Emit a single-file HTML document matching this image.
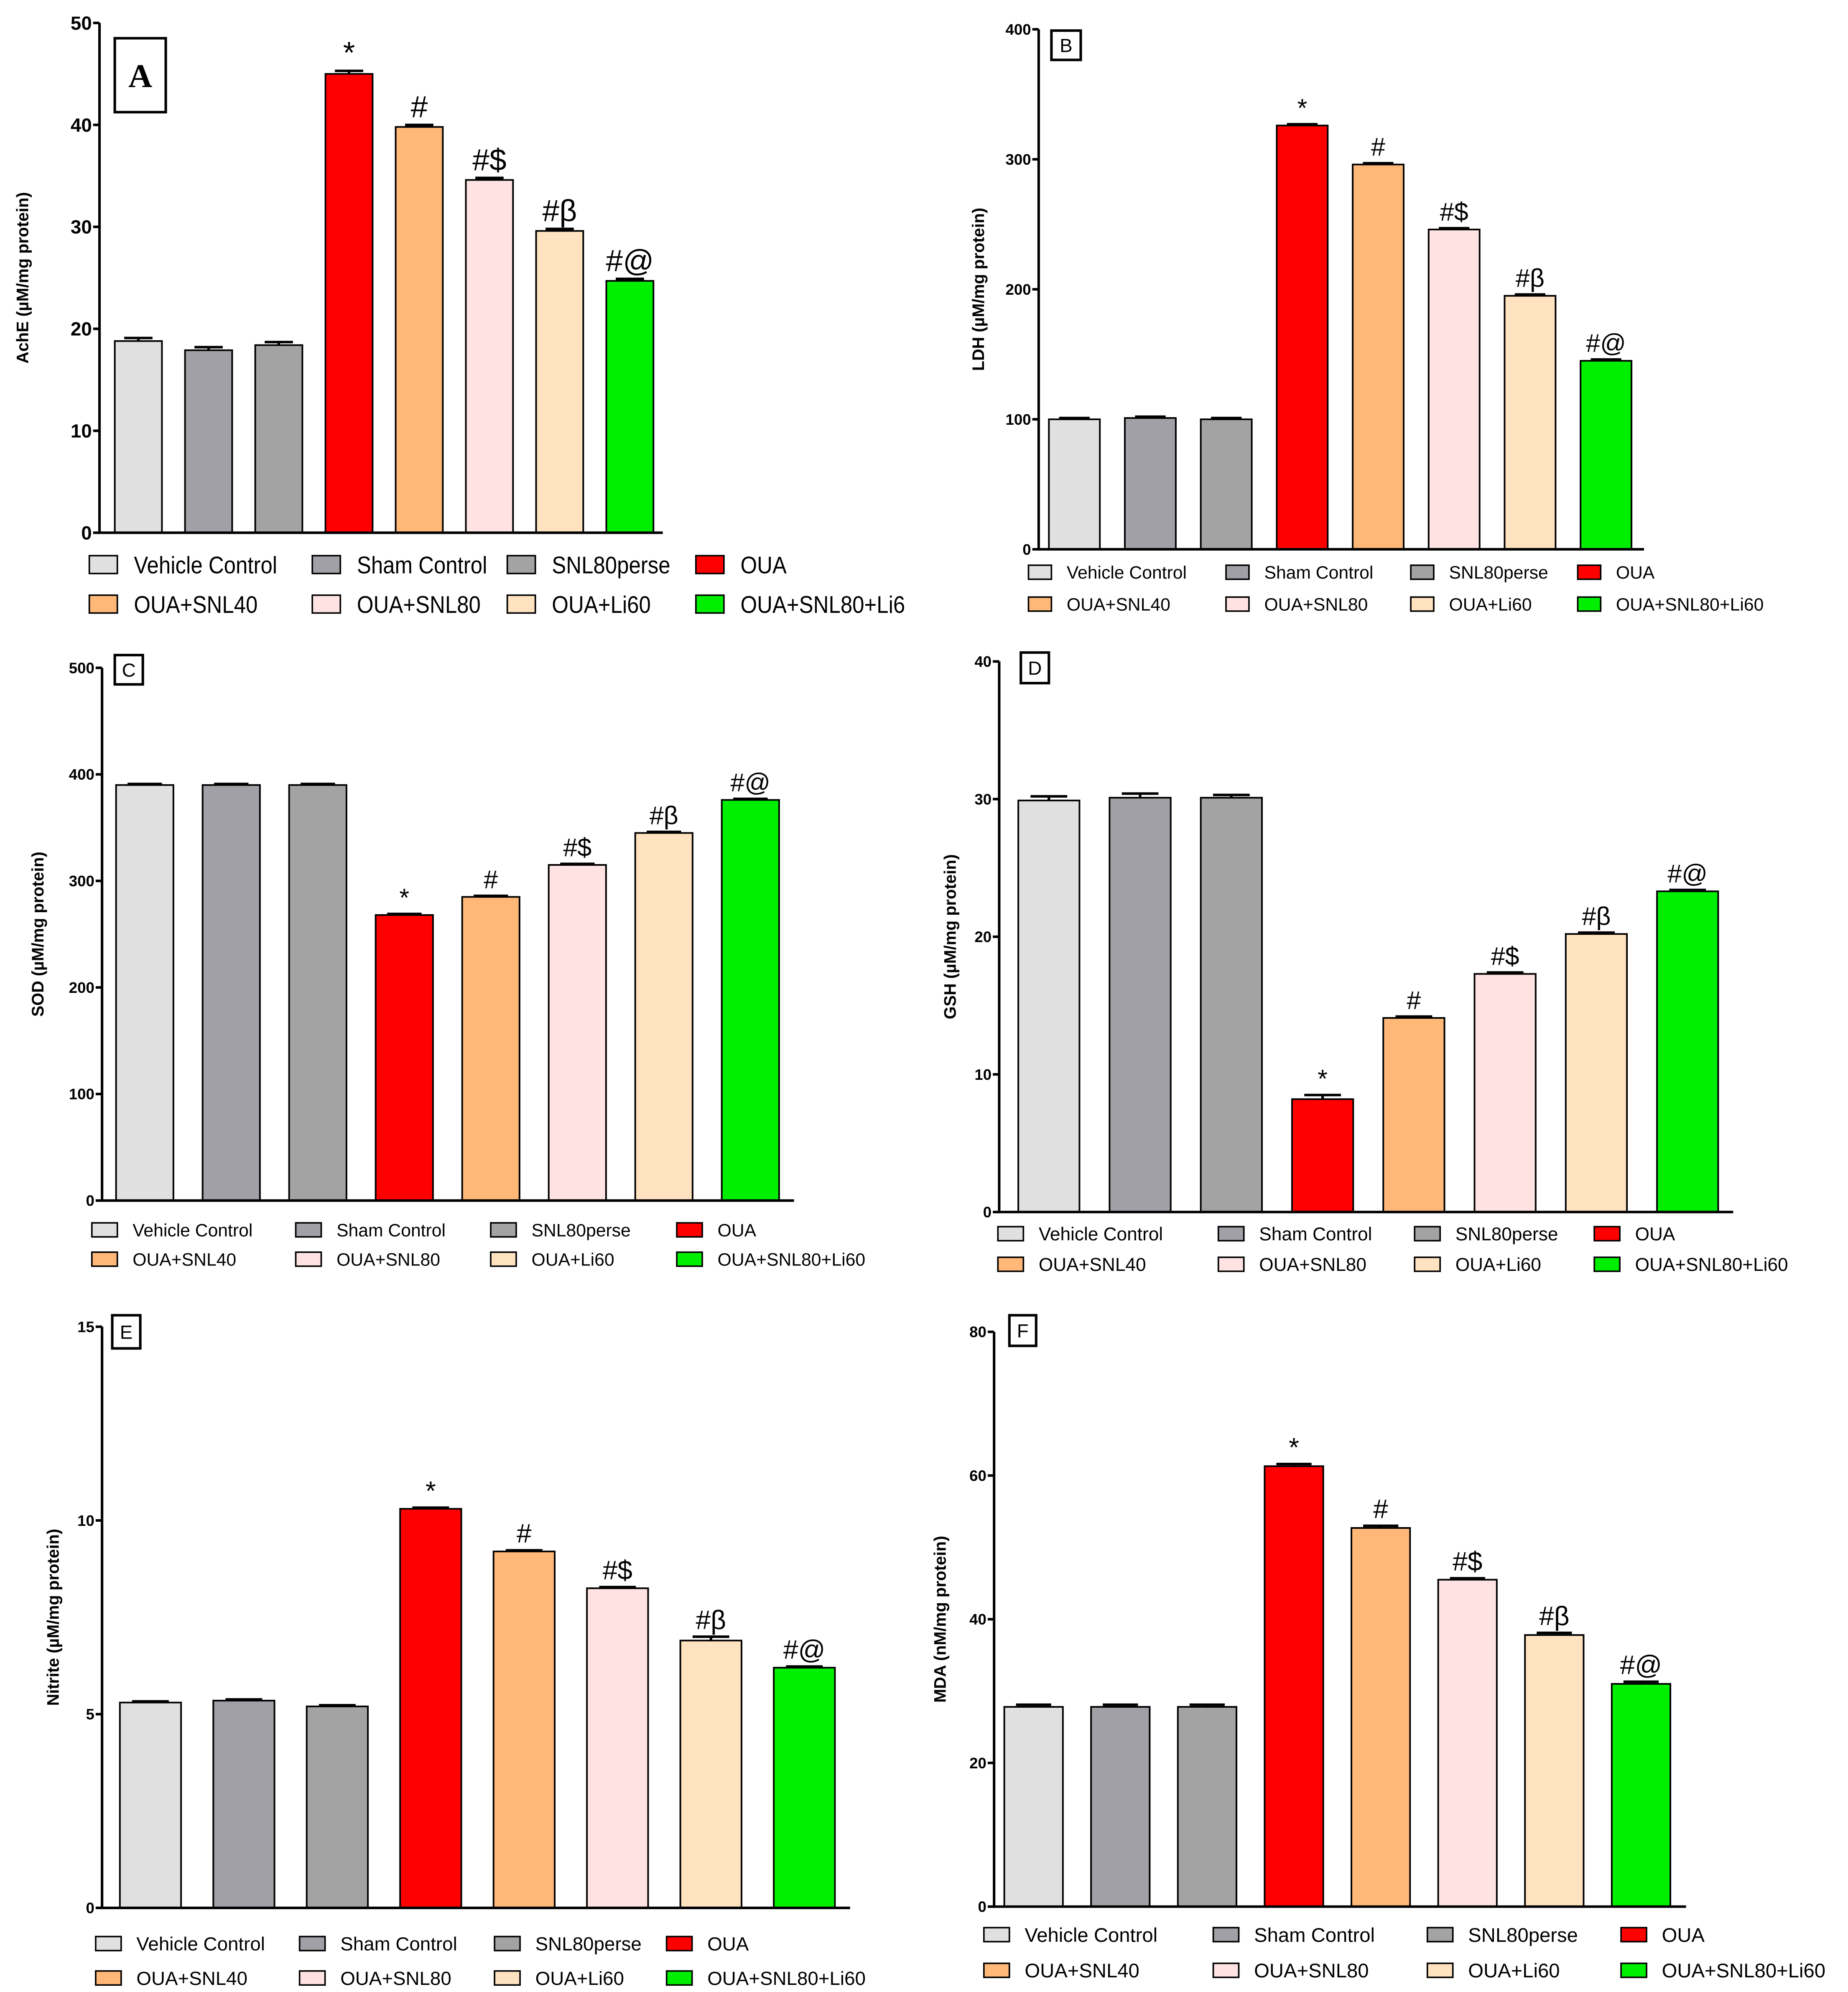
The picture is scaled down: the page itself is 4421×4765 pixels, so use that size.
<!DOCTYPE html>
<html><head><meta charset="utf-8"><style>
html,body{margin:0;padding:0;background:#fff;}
svg{display:block;}
</style></head><body>
<svg id="fig" width="4421" height="4765" viewBox="0 0 1450 1563" xmlns="http://www.w3.org/2000/svg" font-family="Liberation Sans, Arial, sans-serif"></svg>
<script>
const categories = ["Vehicle Control","Sham Control","SNL80perse","OUA","OUA+SNL40","OUA+SNL80","OUA+Li60","OUA+SNL80+Li60"];
const colors = ["#e0e0e0","#a0a0a6","#a3a3a3","#ff0000","#ffb878","#ffe2e2","#ffe2c0","#00ee00"];
const sigLabels = ["","","","*","#","#$","#\u03b2","#@"];
const valuesA = [18.8,17.9,18.4,45.0,39.8,34.6,29.6,24.7];
const valuesB = [100,101,100,326,296,246,195,145];
const valuesC = [390,390,390,268,285,315,345,376];
const valuesD = [29.9,30.1,30.1,8.2,14.1,17.3,20.2,23.3];
const valuesE = [5.3,5.35,5.2,10.3,9.2,8.25,6.9,6.2];
const valuesF = [27.8,27.8,27.8,61.3,52.7,45.5,37.8,31.0];
const errA = [0.3,0.3,0.3,0.3,0.2,0.2,0.2,0.2];
const errB = [1,1,1,1,1,1,1,1];
const errC = [1,1,1,1,1,1,1,1];
const errD = [0.3,0.3,0.2,0.3,0.1,0.1,0.1,0.1];
const errE = [0.03,0.03,0.03,0.03,0.03,0.03,0.1,0.03];
const errF = [0.3,0.3,0.3,0.3,0.3,0.2,0.3,0.3];
const ticksA = [0,10,20,30,40,50];
const ticksB = [0,100,200,300,400];
const ticksC = [0,100,200,300,400,500];
const ticksD = [0,10,20,30,40];
const ticksE = [0,5,10,15];
const ticksF = [0,20,40,60,80];

const NS="http://www.w3.org/2000/svg";
const svg=document.getElementById('fig');
function mk(tag,attrs,parent){const e=document.createElementNS(NS,tag);for(const k in attrs)e.setAttribute(k,attrs[k]);(parent||svg).appendChild(e);return e;}

const panels=[
 {id:'a',letter:'A',vals:valuesA,errs:errA,ticks:ticksA,ax:78,y0:418,yTop:18,max:50,b0:90,step:55.1,bw:37,xEnd:520,title:'AchE (\u00b5M/mg protein)',tx:22,box:[90,30,40,58],boxFs:26,serif:true,tickFs:15,annFs:24,
  legFs:19,legRows:[443,474],legX:[70,245,398,546],sq:[22,14],condensed:true},
 {id:'b',letter:'B',vals:valuesB,errs:errB,ticks:ticksB,ax:815,y0:431,yTop:23,max:400,b0:823,step:59.6,bw:40,xEnd:1290,title:'LDH (\u00b5M/mg protein)',tx:772,box:[825,24,23,23],boxFs:15,tickFs:12,annFs:20,
  legFs:14,legRows:[449,474],legX:[807,962,1107,1238],sq:[18,11]},
 {id:'c',letter:'C',vals:valuesC,errs:errC,ticks:ticksC,ax:80,y0:942,yTop:524,max:500,b0:91,step:67.9,bw:45,xEnd:623,title:'SOD (\u00b5M/mg protein)',tx:34,box:[90,514,22,23],boxFs:15,tickFs:12,annFs:20,
  legFs:14,legRows:[965,988],legX:[72,232,385,531],sq:[20,11]},
 {id:'d',letter:'D',vals:valuesD,errs:errD,ticks:ticksD,ax:784,y0:951,yTop:519,max:40,b0:799,step:71.6,bw:48,xEnd:1360,title:'GSH (\u00b5M/mg protein)',tx:750,box:[801,512,22,24],boxFs:15,tickFs:12,annFs:20,
  legFs:14.5,legRows:[968,992],legX:[783,956,1110,1251],sq:[20,11]},
 {id:'e',letter:'E',vals:valuesE,errs:errE,ticks:ticksE,ax:80,y0:1497,yTop:1041,max:15,b0:94,step:73.3,bw:48,xEnd:667,title:'Nitrite (\u00b5M/mg protein)',tx:46,box:[88,1032,22,26],boxFs:15,tickFs:12,annFs:21,
  legFs:15,legRows:[1525,1552],legX:[75,235,388,523],sq:[20,11]},
 {id:'f',letter:'F',vals:valuesF,errs:errF,ticks:ticksF,ax:780,y0:1496,yTop:1045,max:80,b0:788,step:68.1,bw:46,xEnd:1323,title:'MDA (nM/mg protein)',tx:742,box:[792,1032,21,24],boxFs:15,tickFs:12,annFs:21,
  legFs:15.5,legRows:[1518,1546],legX:[772,952,1120,1272],sq:[20,11]}
];

panels.forEach(p=>{
  const g=mk('g',{});
  
  
  const yS=v=>p.y0-(v/p.max)*(p.y0-p.yTop);
  const xS=i=>p.b0+i*p.step;
  p.vals.forEach((v,i)=>{
    const r=mk('rect',{x:xS(i),y:yS(v),width:p.bw,height:p.y0-yS(v),fill:colors[i],stroke:'#000','stroke-width':1.3},g);
    
    
    const cx=xS(i)+p.bw/2, e=p.errs[i], cw=p.bw*0.3;
    const eb=mk('path',{d:`M${cx} ${yS(v)} V${yS(v+e)} M${cx-cw} ${yS(v+e)} H${cx+cw}`,stroke:'#000','stroke-width':2,fill:'none'},g);
    
    
    if(sigLabels[i]){
      const t=mk('text',{x:cx,y:yS(v+e)-6,'text-anchor':'middle','font-size':p.annFs},g);
      t.textContent=sigLabels[i];
      
      
    }
  });
  const ax=mk('path',{d:`M${p.ax} ${p.yTop} V${p.y0} H${p.xEnd}`,stroke:'#000','stroke-width':2,fill:'none'},g);
  
  
  p.ticks.forEach(t=>{
    const y=yS(t);
    mk('line',{x1:p.ax-5,x2:p.ax,y1:y,y2:y,stroke:'#000','stroke-width':2},g);
    const tl=mk('text',{x:p.ax-6,y:y+p.tickFs*0.35,'text-anchor':'end','font-size':p.tickFs,'font-weight':'bold'},g);
    tl.textContent=t;
    
    
  });
  const cy=(p.y0+p.yTop)/2;
  const yt=mk('text',{x:p.tx,y:cy,'text-anchor':'middle','font-size':13,'font-weight':'bold',transform:`rotate(-90 ${p.tx} ${cy})`},g);
  yt.textContent=p.title;
  
  
  const b=p.box;
  mk('rect',{x:b[0],y:b[1],width:b[2],height:b[3],fill:'#fff',stroke:'#000','stroke-width':2},g);
  const bl=mk('text',{x:b[0]+b[2]/2,y:b[1]+b[3]/2+p.boxFs*0.36,'text-anchor':'middle','font-size':p.boxFs,'font-weight':p.serif?'bold':'normal'},g);
  if(p.serif) bl.setAttribute('style','font-family:"Liberation Serif",serif');
  bl.textContent=p.letter;
  
  
  categories.forEach((c,i)=>{
    const row=i<4?0:1, col=i%4;
    const x=p.legX[col], y=p.legRows[row];
    const lg=mk('g',{},g);
    
    
    mk('rect',{x:x,y:y-p.sq[1]/2,width:p.sq[0],height:p.sq[1],fill:colors[i],stroke:'#000','stroke-width':1.2},lg);
    const t=mk('text',{x:x+p.sq[0]+(p.condensed?13:12),y:y+p.legFs*0.36,'font-size':p.legFs},lg);
    if(p.condensed){t.setAttribute('transform',`translate(${x+p.sq[0]+13} 0) scale(0.88 1) translate(${-(x+p.sq[0]+13)} 0)`);}
    t.textContent=(p.id==='a'&&i===7)?'OUA+SNL80+Li6':c;
  });
});
</script>
</body></html>
